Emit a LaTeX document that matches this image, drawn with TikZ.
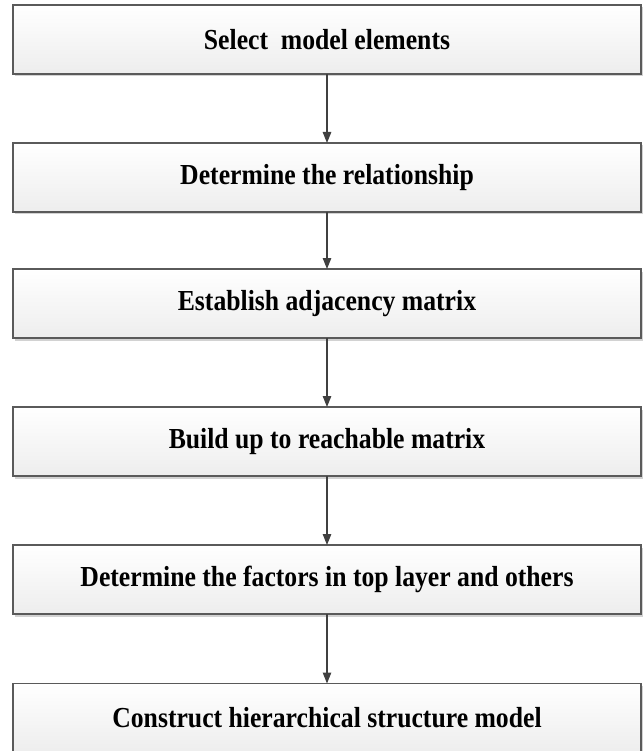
\documentclass[tikz,border=0pt]{standalone}
\usepackage{fontspec}
\setmainfont{Liberation Serif}[FakeStretch=0.886]
\usetikzlibrary{arrows.meta,shadows}
\definecolor{bordercol}{HTML}{5A5A5A}
\definecolor{arrowcol}{HTML}{404040}
\begin{document}
\begin{tikzpicture}[x=1pt,y=1pt,
  stepbox/.style={rectangle, draw=bordercol, line width=1.2pt,
    top color=white, bottom color=gray!14,
    minimum width=628pt, minimum height=69pt, inner sep=0pt, outer sep=0pt,
    font=\fontsize{29}{34}\selectfont\bfseries,
    drop shadow={shadow xshift=1.5pt, shadow yshift=-2.5pt, fill=gray!35, opacity=1}},
  flowarrow/.style={draw=arrowcol, line width=1.1pt,
    -{Triangle[length=11pt,width=8.5pt]}}]
\useasboundingbox (0,0) rectangle (644,-751);
\node[stepbox] (b1) at (327,-39.5) {Select\ \ model elements};
\node[stepbox] (b2) at (327,-177.5) {Determine the relationship};
\node[stepbox] (b3) at (327,-303.5) {Establish adjacency matrix};
\node[stepbox] (b4) at (327,-441.5) {Build up to reachable matrix};
\node[stepbox] (b5) at (327,-579.5) {Determine the factors in top layer and others};
\node[stepbox] (b6) at (327,-718) {Construct hierarchical structure model};
\draw[flowarrow] (b1.south) -- (b2.north);
\draw[flowarrow] (b2.south) -- (b3.north);
\draw[flowarrow] (b3.south) -- (b4.north);
\draw[flowarrow] (b4.south) -- (b5.north);
\draw[flowarrow] (b5.south) -- (b6.north);
\end{tikzpicture}
\end{document}
